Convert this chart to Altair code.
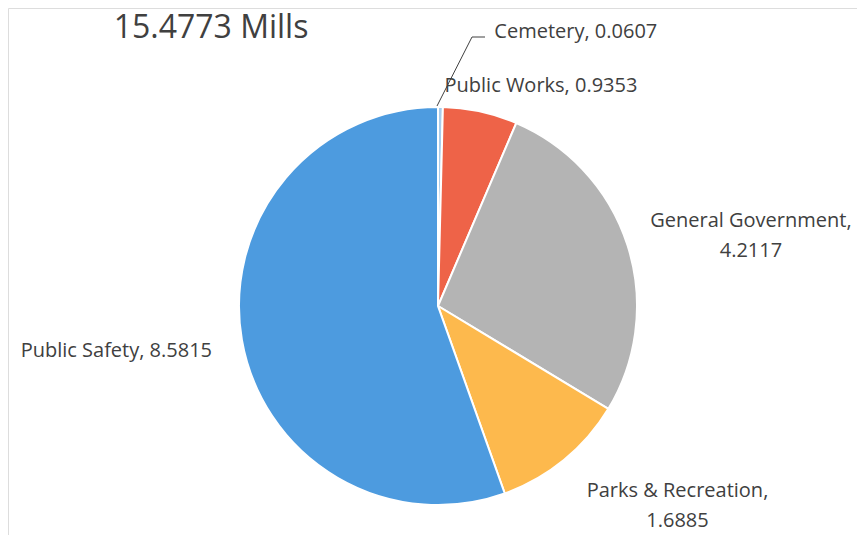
import math
import altair as alt
import pandas as pd

# ---- data ----
categories = ["Cemetery", "Public Works", "General Government", "Parks & Recreation", "Public Safety"]
values = [0.0607, 0.9353, 4.2117, 1.6885, 8.5815]
label_texts = [
    "Cemetery, 0.0607",
    "Public Works, 0.9353",
    "General Government,\n4.2117",
    "Parks & Recreation,\n1.6885",
    "Public Safety, 8.5815",
]
colors = ["#A9CCEB", "#EE6348", "#B4B4B4", "#FDB94D", "#4D9BDF"]
title_text = "15.4773 Mills"

# ---- layout / style ----
W, H = 849, 527
CX, CY = 430, 298          # pie centre (chart coords)
R = 199                    # pie radius
LR = 230                   # label anchor radius
label_offsets = {          # (dx, dy) per label (first line for multi-line labels)
    "Cemetery": (135, -44),
    "Public Works": (54, 5),
    "General Government": (94, -14),
    "Parks & Recreation": (94, 7),
    "Public Safety": (-95, 6),
}
TEXT_COLOR = "#404040"
FONT = "Open Sans"

df = pd.DataFrame({"name": categories, "value": values, "label": label_texts,
                   "order": list(range(len(categories)))})

base = alt.Chart(df)

pie = base.mark_arc(radius=R, stroke="white", strokeWidth=2).encode(
    theta=alt.Theta("value:Q", stack=True),
    order=alt.Order("order:Q"),
    color=alt.Color("name:N", scale=alt.Scale(domain=categories, range=colors), legend=None),
    x=alt.value(CX),
    y=alt.value(CY),
)

lab_base = (
    base.transform_window(cum="sum(value)", sort=[alt.SortField("order")], frame=[None, 0])
    .transform_joinaggregate(total="sum(value)")
    .transform_calculate(mid="2*PI*(datum.cum - datum.value/2)/datum.total")
    .transform_calculate(
        px=f"{CX} + {LR}*sin(datum.mid)",
        py=f"{CY} - {LR}*cos(datum.mid)",
    )
)

label_layers = []
for cat in categories:
    dx, dy = label_offsets[cat]
    label_layers.append(
        lab_base.transform_filter(alt.datum.name == cat)
        .mark_text(dx=dx, dy=dy, fontSize=20, font=FONT, color=TEXT_COLOR,
                   lineBreak="\n", lineHeight=30, align="center", baseline="middle")
        .encode(
            x=alt.X("px:Q", scale=None, axis=None),
            y=alt.Y("py:Q", scale=None, axis=None),
            text="label:N",
        )
    )

# leader line for the Cemetery slice, starting at the slice's edge
start_angle = 0.0
sx = CX + (R + 1) * math.sin(start_angle) - 1
sy = CY - (R + 1) * math.cos(start_angle)
leader = pd.DataFrame({
    "lx": [sx, sx + 35, sx + 48],
    "ly": [sy, sy - 69, sy - 69],
    "k": [0, 1, 2],
})
leader_line = alt.Chart(leader).mark_line(color=TEXT_COLOR, strokeWidth=1).encode(
    x=alt.X("lx:Q", scale=None, axis=None),
    y=alt.Y("ly:Q", scale=None, axis=None),
    order="k:Q",
)

title = alt.Chart(pd.DataFrame({"t": [title_text]})).mark_text(
    fontSize=32, font=FONT, color=TEXT_COLOR, align="center", baseline="middle"
).encode(x=alt.value(203), y=alt.value(20), text="t:N")

chart = (
    alt.layer(pie, leader_line, *label_layers, title)
    .properties(width=W, height=H, padding=0, autosize=alt.AutoSizeParams(type="none"))
    .configure_view(strokeWidth=0, stroke="transparent")
    .configure_axis(domain=False, grid=False, ticks=False, labels=False)
    .configure(background="white")
)

chart.save("out.html", embed_options={"renderer": "svg", "actions": False})
